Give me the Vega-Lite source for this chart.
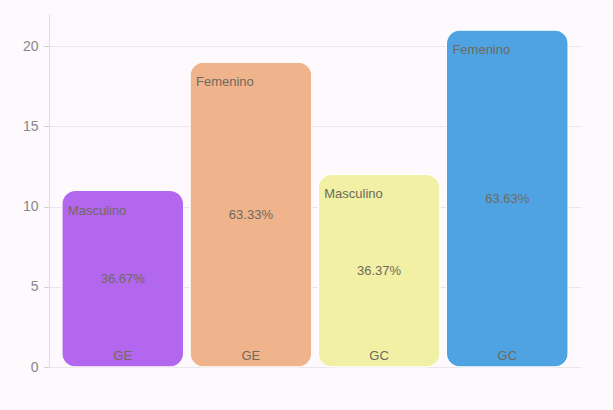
{
  "$schema": "https://vega.github.io/schema/vega-lite/v6.json",
  "width": 613,
  "height": 410,
  "autosize": {"type": "fit", "contains": "padding"},
  "padding": {"left": 22, "right": 32, "top": 14, "bottom": 36},
  "background": "#fdf9fd",
  "config": {"view": {"stroke": null}, "font": "Liberation Sans"},
  "data": {
    "values": [
      {"bar": "GE-M", "grupo": "GE", "sexo": "Masculino", "value": 11, "pct": "36.67%"},
      {"bar": "GE-F", "grupo": "GE", "sexo": "Femenino", "value": 19, "pct": "63.33%"},
      {"bar": "GC-M", "grupo": "GC", "sexo": "Masculino", "value": 12, "pct": "36.37%"},
      {"bar": "GC-F", "grupo": "GC", "sexo": "Femenino", "value": 21, "pct": "63.63%"}
    ]
  },
  "transform": [{"calculate": "datum.value / 2", "as": "mid"}],
  "encoding": {
    "x": {
      "field": "bar", "type": "nominal", "sort": null,
      "scale": {"paddingInner": 0.05, "paddingOuter": 0.1},
      "axis": null
    }
  },
  "layer": [
    {
      "mark": {"type": "bar", "cornerRadius": 14, "stroke": "#ffffff", "strokeWidth": 1},
      "encoding": {
        "y": {
          "field": "value", "type": "quantitative",
          "scale": {"domain": [0, 22], "nice": false},
          "axis": {
            "title": null, "values": [0, 5, 10, 15, 20], "labelColor": "#888888",
            "labelFontSize": 14, "gridColor": "#ebe6eb", "domainColor": "#dddddd",
            "tickColor": "#cccccc", "labelPadding": 6
          }
        },
        "color": {
          "field": "bar", "type": "nominal", "sort": null, "legend": null,
          "scale": {"domain": ["GE-M", "GE-F", "GC-M", "GC-F"], "range": ["#b366ee", "#efb48c", "#f1f0a4", "#4fa3e3"]}
        }
      }
    },
    {
      "mark": {"type": "text", "align": "left", "baseline": "top", "dx": 6, "dy": 14, "fontSize": 13, "color": "#6f6a5c"},
      "encoding": {
        "x": {"field": "bar", "type": "nominal", "sort": null, "bandPosition": 0},
        "y": {"field": "value", "type": "quantitative"},
        "text": {"field": "sexo"}
      }
    },
    {
      "mark": {"type": "text", "align": "center", "baseline": "middle", "fontSize": 13, "color": "#6f6a5c"},
      "encoding": {
        "y": {"field": "mid", "type": "quantitative"},
        "text": {"field": "pct"}
      }
    },
    {
      "mark": {"type": "text", "align": "center", "baseline": "bottom", "dy": -4, "fontSize": 13, "color": "#6f6a5c"},
      "encoding": {
        "y": {"datum": 0, "type": "quantitative"},
        "text": {"field": "grupo"}
      }
    }
  ]
}
